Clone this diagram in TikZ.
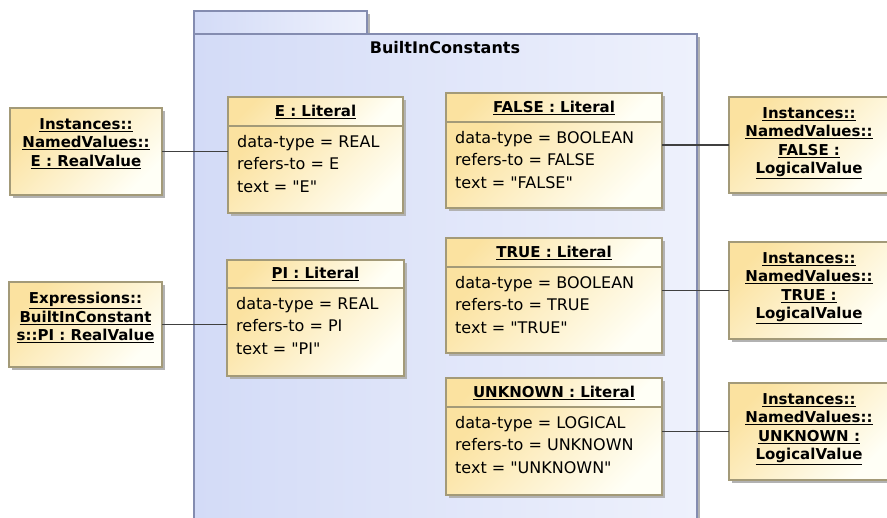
\documentclass[tikz,border=0pt]{standalone}
\usepackage{fontspec}
\setmainfont{DejaVu Sans}
\usepackage{tikz}
\usetikzlibrary{
  positioning,
  shadows
}
\usepackage{xcolor}
\definecolor{litfill}{HTML}{FBE2A0}
\definecolor{litfade}{HTML}{FFFFF6}
\definecolor{litline}{HTML}{A39A78}
\definecolor{pkgfill}{HTML}{D3DBF7}
\definecolor{pkgfade}{HTML}{EEF1FC}
\definecolor{pkgline}{HTML}{848CB0}
\definecolor{wire}{HTML}{404040}

\begin{document}
\begin{tikzpicture}[x=1pt, y=-1pt,
  boxshadow/.style={general shadow={fill=black!30, shadow xshift=3pt, shadow yshift=-3pt}},
  pkgbox/.style={draw=pkgline, line width=1.2pt, left color=pkgfill, right color=pkgfade,
               outer sep=0pt, inner sep=0pt, anchor=north west, boxshadow},
  objbox/.style={draw=litline, line width=1.2pt, top color=litfill, bottom color=litfade,
               shading angle=45, outer sep=0pt, inner sep=0pt, boxshadow},
  littitle/.style={objbox, anchor=north west, minimum height=29pt,
               font=\fontsize{15}{18}\selectfont\bfseries},
  litbody/.style={objbox, minimum height=87pt},
  attrs/.style={font=\fontsize{16}{22.5}\selectfont, align=left, anchor=north west,
               inner sep=0pt, xshift=9pt, yshift=-9pt},
  instbox/.style={objbox, anchor=north west},
  insttext/.style={font=\fontsize{15}{18.5}\selectfont\bfseries, align=center, anchor=north,
               inner sep=0pt, yshift=-10pt},
  link/.style={draw=wire, line width=1.2pt},
]
  \useasboundingbox (0,0) rectangle (887,518);

  % package
  \node[pkgbox, minimum width=173pt, minimum height=23pt] (pkgtab) at (194,11) {};
  \node[pkgbox, minimum width=503pt, minimum height=500pt] (pkg) at (194,34) {};
  \node[font=\fontsize{16}{18}\selectfont\bfseries] (pkgname) at (445,48) {BuiltInConstants};

  % literals
  \node[littitle, minimum width=175pt] (elit) at (228,97) {\underline{E : Literal}};
  \node[litbody, minimum width=175pt, below=0pt of elit,
        label={[attrs]north west:{data-type = REAL\\refers-to = E\\text = \textquotedbl E\textquotedbl}}] (elitb) {};

  \node[littitle, minimum width=177pt, minimum height=28pt] (pilit) at (227,260) {\underline{PI : Literal}};
  \node[litbody, minimum width=177pt, minimum height=88pt, below=0pt of pilit,
        label={[attrs]north west:{data-type = REAL\\refers-to = PI\\text = \textquotedbl PI\textquotedbl}}] (pilitb) {};

  \node[littitle, minimum width=216pt] (flit) at (446,93) {\underline{FALSE : Literal}};
  \node[litbody, minimum width=216pt, minimum height=86pt, below=0pt of flit,
        label={[attrs]north west:{data-type = BOOLEAN\\refers-to = FALSE\\text = \textquotedbl FALSE\textquotedbl}}] (flitb) {};

  \node[littitle, minimum width=216pt] (tlit) at (446,238) {\underline{TRUE : Literal}};
  \node[litbody, minimum width=216pt, minimum height=86pt, below=0pt of tlit,
        label={[attrs]north west:{data-type = BOOLEAN\\refers-to = TRUE\\text = \textquotedbl TRUE\textquotedbl}}] (tlitb) {};

  \node[littitle, minimum width=216pt] (ulit) at (446,378) {\underline{UNKNOWN : Literal}};
  \node[litbody, minimum width=216pt, minimum height=88pt, below=0pt of ulit,
        label={[attrs]north west:{data-type = LOGICAL\\refers-to = UNKNOWN\\text = \textquotedbl UNKNOWN\textquotedbl}}] (ulitb) {};

  % instances
  \node[instbox, minimum width=152pt, minimum height=87pt,
        label={[insttext]north:{\underline{Instances::}\\\underline{NamedValues::}\\\underline{E : RealValue}}}] (einst) at (10,108) {};
  \node[instbox, minimum width=153pt, minimum height=85pt,
        label={[insttext]north:{\underline{Expressions::}\\\underline{BuiltInConstant}\\\underline{s::PI : RealValue}}}] (piinst) at (9,282) {};
  \node[instbox, minimum width=160pt, minimum height=96pt,
        label={[insttext]north:{\underline{Instances::}\\\underline{NamedValues::}\\\underline{FALSE :}\\\underline{LogicalValue}}}] (finst) at (729,97) {};
  \node[instbox, minimum width=160pt, minimum height=97pt,
        label={[insttext]north:{\underline{Instances::}\\\underline{NamedValues::}\\\underline{TRUE :}\\\underline{LogicalValue}}}] (tinst) at (729,242) {};
  \node[instbox, minimum width=160pt, minimum height=97pt,
        label={[insttext]north:{\underline{Instances::}\\\underline{NamedValues::}\\\underline{UNKNOWN :}\\\underline{LogicalValue}}}] (uinst) at (729,383) {};

  % links
  \draw[link] (einst.east) -- (einst.east -| elitb.west);
  \draw[link] (piinst.east) -- (piinst.east -| pilitb.west);
  \draw[link] (flitb.east |- finst.west) -- (finst.west);
  \draw[link] (tlitb.east |- tinst.west) -- (tinst.west);
  \draw[link] (ulitb.east |- uinst.west) -- (uinst.west);
\end{tikzpicture}
\end{document}
